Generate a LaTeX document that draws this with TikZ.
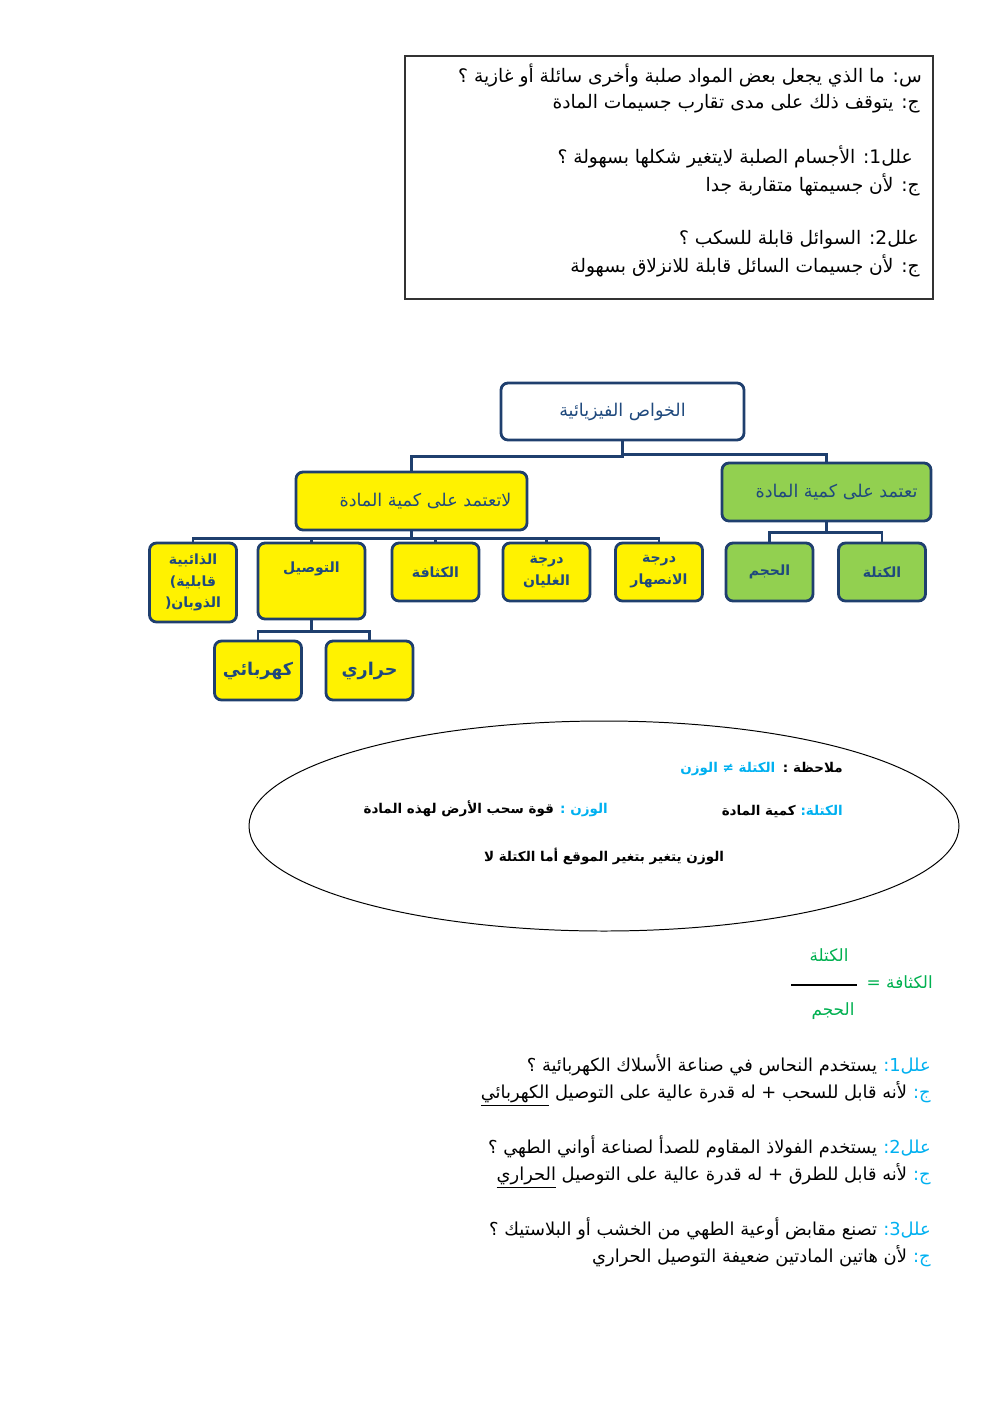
\documentclass[tikz,border=0pt]{standalone}
\usepackage{fontspec}
\newfontfamily\arabicfont[Script=Arabic]{DejaVu Sans}
\TeXXeTstate=1
\usepackage{tikz}
\usetikzlibrary{positioning,shapes.geometric}
\definecolor{boxline}{HTML}{1F3F6E}
\definecolor{boxtext}{HTML}{1F497D}
\definecolor{leafgreen}{HTML}{92D050}
\definecolor{notecyan}{HTML}{00B0F0}
\definecolor{densgreen}{HTML}{00B050}
\newcommand\arline[1]{\beginR#1\endR}
\newcommand\pxu{0.025cm}

\begin{document}
\begin{tikzpicture}[x=0.025cm, y=-0.025cm,
    qline/.style={anchor=east, inner sep=0pt, font=\arabicfont\fontsize{13.25}{15}\selectfont},
    rline/.style={anchor=east, inner sep=0pt, font=\arabicfont\fontsize{12.7}{15}\selectfont},
    noteline/.style={anchor=east, inner sep=0pt, font=\arabicfont\bfseries\fontsize{9.6}{12}\selectfont},
    densline/.style={inner sep=0pt, text=densgreen, font=\arabicfont\fontsize{12}{14}\selectfont},
    treebox/.style={draw=boxline, line width=2pt, rounded corners=5pt, text=boxtext, inner sep=0pt, align=center},
    headbox/.style={treebox, font=\arabicfont\fontsize{12.5}{14}\selectfont},
    leafbox/.style={treebox, minimum width=87*\pxu, minimum height=58*\pxu, font=\arabicfont\bfseries\fontsize{10}{15.5}\selectfont},
    branch/.style={draw=boxline, line width=2pt}]
    \useasboundingbox (0,0) rectangle (992,1403);

    % Question box
    \node[draw=black!80, line width=0.8pt, minimum width=528*\pxu, minimum height=243*\pxu, inner sep=0pt] (qbox) at (669,177.5) {};
    \node[qline] (q0) at (922,75) {\arline{س: ما الذي يجعل بعض المواد صلبة وأخرى سائلة أو غازية ؟}};
    \node[qline] (a0) at (920,104) {\arline{ج: يتوقف ذلك على مدى تقارب جسيمات المادة}};
    \node[qline] (q1) at (913,157) {\arline{علل1: الأجسام الصلبة لايتغير شكلها بسهولة ؟}};
    \node[qline] (a1) at (920,185) {\arline{ج: لأن جسيمتها متقاربة جدا}};
    \node[qline] (q2) at (919,240) {\arline{علل2: السوائل قابلة للسكب ؟}};
    \node[qline] (a2) at (920,266) {\arline{ج: لأن جسيمات السائل قابلة للانزلاق بسهولة}};

    % Tree of properties
    \node[headbox, fill=white, minimum width=243*\pxu, minimum height=57*\pxu] (props) at (622.5,411.5) {\arline{الخواص الفيزيائية}};
    \node[headbox, fill=leafgreen, minimum width=209*\pxu, minimum height=58*\pxu] (bymass) at (826.5,492) {\kern0.5cm\arline{تعتمد على كمية المادة}};
    \node[headbox, fill=yellow, minimum width=231*\pxu, minimum height=58*\pxu] (nomass) at (411.5,501) {\kern0.7cm\arline{لاتعتمد على كمية المادة}};

    \node[leafbox, fill=yellow, minimum height=79*\pxu] (solub) at (193,582.5) {\arline{الذائبية}\\\arline{قابلية)}\\\arline{الذوبان(}};
    \node[leafbox, fill=yellow, minimum width=107*\pxu, minimum height=76*\pxu, text height=29*\pxu, text depth=47*\pxu] (conduct) at (311.5,581) {\arline{التوصيل}};
    \node[leafbox, fill=yellow] (densty) at (435.5,572) {\arline{الكثافة}};
    \node[leafbox, fill=yellow] (boilpt) at (546.5,572) {\arline{درجة}\\\arline{الغليان}};
    \node[leafbox, fill=yellow] (meltpt) at (659,572) {\arline{درجة}\\\arline{الانصهار}};
    \node[leafbox, fill=leafgreen] (volume) at (769.5,572) {\arline{الحجم}};
    \node[leafbox, fill=leafgreen] (massq) at (882,572) {\arline{الكتلة}};
    \node[leafbox, fill=yellow, minimum height=59*\pxu, font=\arabicfont\bfseries\fontsize{12.5}{16}\selectfont] (elec) at (258,670.5) {\arline{كهربائي}};
    \node[leafbox, fill=yellow, minimum height=59*\pxu, font=\arabicfont\bfseries\fontsize{12.5}{16}\selectfont] (heat) at (369.5,670.5) {\arline{حراري}};

    % Branches
    \draw[branch] (props.south) -- ++(0,15) -| (nomass.north);
    \draw[branch] (props.south) -- ++(0,13) -| (bymass.north);
    \foreach \leafname in {solub,conduct,densty,boilpt,meltpt}
        \draw[branch] (nomass.south) -- ++(0,7) -| (\leafname.north);
    \foreach \leafname in {volume,massq}
        \draw[branch] (bymass.south) -- ++(0,10) -| (\leafname.north);
    \foreach \leafname in {elec,heat}
        \draw[branch] (conduct.south) -- ++(0,11) -| (\leafname.north);

    % Note ellipse
    \node[draw, ellipse, line width=0.7pt, minimum width=710*\pxu, minimum height=210*\pxu] (notes) at (604,826) {};
    \node[noteline] (n1) at (843,768) {\arline{ملاحظة :}};
    \node[noteline, text=notecyan, base left=5pt of n1] (n1b) {\arline{الكتلة ≠ الوزن}};
    \node[noteline, text=notecyan] (n2) at (843,810) {\arline{الكتلة:}};
    \node[noteline, base left=3pt of n2] (n2b) {\arline{كمية المادة}};
    \node[noteline, text=notecyan] (n3) at (608,810) {\arline{الوزن :}};
    \node[noteline, base left=4pt of n3] (n3b) {\arline{قوة سحب الأرض لهذه المادة}};
    \node[noteline, anchor=center] (n4) at (604,856) {\arline{الوزن يتغير بتغير الموقع أما الكتلة لا}};

    % Density
    \node[densline, anchor=east] (densname) at (933,982) {\arline{الكثافة =}};
    \node[densline] (densnum) at (829,955) {\arline{الكتلة}};
    \node[densline] (densden) at (833,1011) {\arline{الحجم}};
    \draw[line width=0.8pt] (791,985) -- (857,985);

    % Reasons
    \node[rline, text=notecyan] (w1) at (931,1066) {\arline{علل1:}};
    \node[rline, base left=4pt of w1] (w1b) {\arline{يستخدم النحاس في صناعة الأسلاك الكهربائية ؟}};
    \node[rline, text=notecyan] (r1) at (931,1096) {\arline{ج:}};
    \node[rline, base left=4pt of r1] (r1b) {\arline{لأنه قابل للسحب + له قدرة عالية على التوصيل \underline{الكهربائي}}};
    \node[rline, text=notecyan] (w2) at (931,1148) {\arline{علل2:}};
    \node[rline, base left=4pt of w2] (w2b) {\arline{يستخدم الفولاذ المقاوم للصدأ لصناعة أواني الطهي ؟}};
    \node[rline, text=notecyan] (r2) at (931,1178) {\arline{ج:}};
    \node[rline, base left=4pt of r2] (r2b) {\arline{لأنه قابل للطرق + له قدرة عالية على التوصيل \underline{الحراري}}};
    \node[rline, text=notecyan] (w3) at (931,1230) {\arline{علل3:}};
    \node[rline, base left=4pt of w3] (w3b) {\arline{تصنع مقابض أوعية الطهي من الخشب أو البلاستيك ؟}};
    \node[rline, text=notecyan] (r3) at (931,1260) {\arline{ج:}};
    \node[rline, base left=4pt of r3] (r3b) {\arline{لأن هاتين المادتين ضعيفة التوصيل الحراري}};
\end{tikzpicture}
\end{document}
